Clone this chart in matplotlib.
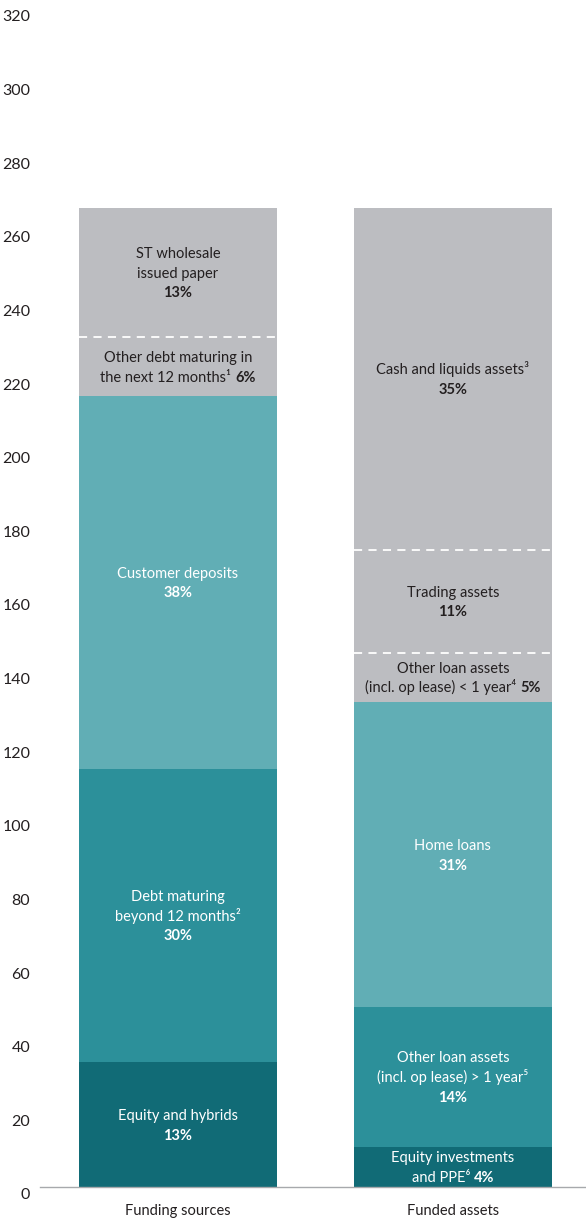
import numpy as np
import matplotlib.pyplot as plt
import matplotlib.transforms as mtransforms

FONT = ['Lato', 'DejaVu Sans']
plt.rcParams['font.family'] = FONT

# two stacked columns, values in $bn (bottom to top)
bars = ['Funding sources', 'Funded assets']

funding_vals = [34.0, 79.6, 101.3, 16.0, 35.1]
funding_labels = [
    'Equity and hybrids\n**{p}**',
    'Debt maturing\nbeyond 12 months²\n**{p}**',
    'Customer deposits\n**{p}**',
    'Other debt maturing in\nthe next 12 months¹ **{p}**',
    'ST wholesale\nissued paper\n**{p}**',
]

asset_vals = [10.9, 38.0, 82.9, 13.3, 28.0, 92.9]
asset_labels = [
    'Equity investments\nand PPE⁶ **{p}**',
    'Other loan assets\n(incl. op lease) > 1 year⁵\n**{p}**',
    'Home loans\n**{p}**',
    'Other loan assets\n(incl. op lease) < 1 year⁴ **{p}**',
    'Trading assets\n**{p}**',
    'Cash and liquids assets³\n**{p}**',
]

yticks = list(range(0, 321, 20))

DARK = '#116b76'
MID = '#2c909a'
LIGHT = '#61aeb5'
GREY = '#bcbdc1'
funding_cols = [DARK, MID, LIGHT, GREY, GREY]
asset_cols = [DARK, MID, LIGHT, GREY, GREY, GREY]

fig = plt.figure(figsize=(5.86, 12.21), dpi=100)
ax = fig.add_axes([40 / 586, 34 / 1221, 546 / 586, 1178 / 1221])
ax.set_xlim(-0.502, 1.484)
ax.set_ylim(0, 320)

WIDTH = 0.72
FS = 10.5
LINE = 14.2  # points between text lines

renderer = fig.canvas.get_renderer()


def text_width(s, weight):
    t = ax.text(0, 0, s, fontsize=FS, fontweight=weight)
    w = t.get_window_extent(renderer).width * 72 / fig.dpi
    t.remove()
    return w


def draw_label(xc, yc, markup, color):
    lines = markup.split('\n')
    n = len(lines)
    for i, line in enumerate(lines):
        parts = line.split('**')
        pieces = [(s, 'bold' if k % 2 else 'normal') for k, s in enumerate(parts) if s]
        widths = [text_width(s, w) for s, w in pieces]
        x0 = -sum(widths) / 2
        dy = (n - 1) / 2 * LINE - i * LINE - FS * 0.36
        for (s, w), wd in zip(pieces, widths):
            ax.annotate(s, xy=(xc, yc), xytext=(x0, dy), textcoords='offset points',
                        ha='left', va='baseline', fontsize=FS, fontweight=w,
                        color=color)
            x0 += wd


for xi, (vals, labels, cols) in enumerate([(funding_vals, funding_labels, funding_cols),
                                           (asset_vals, asset_labels, asset_cols)]):
    total = sum(vals)
    bottoms = np.concatenate([[0], np.cumsum(vals)[:-1]])
    ax.bar(xi, vals, WIDTH, bottom=bottoms, color=cols, linewidth=0)
    for k, (v, b, lab, c) in enumerate(zip(vals, bottoms, labels, cols)):
        pct = '{:d}%'.format(int(round(v / total * 100)))
        tc = '#231f20' if c == GREY else 'white'
        draw_label(xi, b + v / 2, lab.replace('{p}', pct), tc)
        if k > 0 and c == GREY and cols[k - 1] == GREY:
            ax.plot([xi - WIDTH / 2, xi + WIDTH / 2], [b, b], color='white',
                    lw=1.3, dashes=(4.5, 3.5))

ax.set_yticks(yticks)
ax.set_yticklabels([str(t) for t in yticks], fontsize=11.5, color='#231f20')
ax.tick_params(axis='y', length=0, pad=7)
# tick labels sit a little below their gridline value
shift = mtransforms.ScaledTranslation(0, -5 / 72, fig.dpi_scale_trans)
for lbl in ax.get_yticklabels():
    lbl.set_transform(lbl.get_transform() + shift)
ax.set_xticks([0, 1])
ax.set_xticklabels(bars, fontsize=FS, color='#231f20')
ax.tick_params(axis='x', length=0, pad=12)
for side in ['left', 'right', 'top']:
    ax.spines[side].set_visible(False)
ax.spines['bottom'].set_color('#a7a9ac')
ax.spines['bottom'].set_linewidth(1.0)

fig.savefig('out.png', dpi=100)
